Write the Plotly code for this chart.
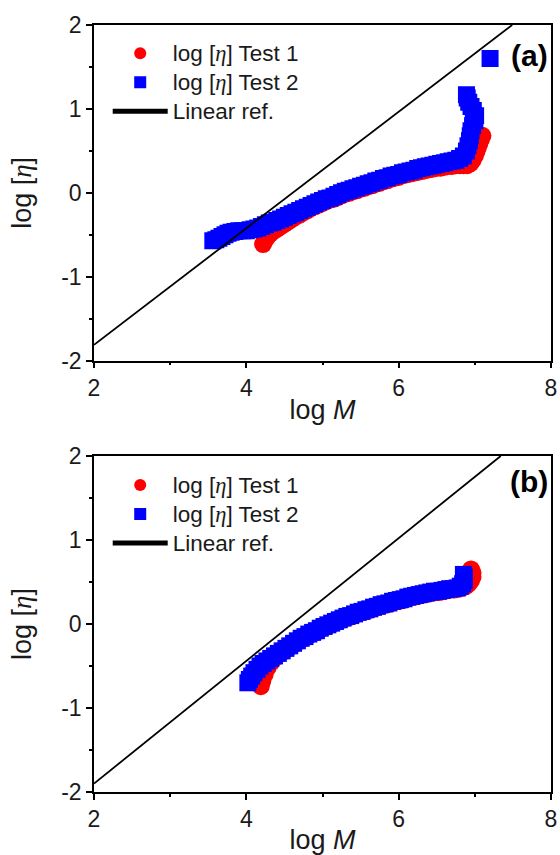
import plotly.graph_objects as go

# ---- Panel (a) ----
a_t1_x = [4.22, 4.24, 4.27, 4.31, 4.35, 4.40, 4.45, 4.50, 4.55, 4.60, 4.65, 4.70, 4.75, 4.80,
          4.85, 4.90, 4.95, 5.00, 5.05, 5.10, 5.15, 5.20, 5.25, 5.30, 5.35, 5.40, 5.45, 5.50,
          5.55, 5.60, 5.65, 5.70, 5.75, 5.80, 5.85, 5.90, 5.95, 6.00, 6.05, 6.10, 6.15, 6.20,
          6.25, 6.30, 6.35, 6.40, 6.45, 6.50, 6.55, 6.60, 6.65, 6.70, 6.75, 6.80, 6.85, 6.90,
          6.94, 6.97, 7.00, 7.02, 7.04, 7.06, 7.08, 7.10]
a_t1_y = [-0.61, -0.57, -0.53, -0.49, -0.46, -0.43, -0.40, -0.37, -0.34, -0.31, -0.28, -0.26, -0.23, -0.21,
          -0.18, -0.16, -0.14, -0.12, -0.10, -0.08, -0.07, -0.05, -0.03, -0.01, 0.00, 0.02, 0.03, 0.05,
          0.06, 0.08, 0.09, 0.11, 0.12, 0.14, 0.15, 0.17, 0.18, 0.19, 0.21, 0.22, 0.23, 0.24,
          0.25, 0.26, 0.27, 0.28, 0.29, 0.30, 0.30, 0.31, 0.32, 0.32, 0.33, 0.33, 0.33, 0.33,
          0.35, 0.39, 0.44, 0.49, 0.54, 0.59, 0.64, 0.68]

a_t2_x = [3.56, 3.60, 3.64, 3.68, 3.72, 3.76, 3.80, 3.85, 3.90, 3.95, 4.00, 4.05, 4.10, 4.15,
          4.20, 4.25, 4.30, 4.35, 4.40, 4.45, 4.50, 4.55, 4.60, 4.65, 4.70, 4.75, 4.80, 4.85,
          4.90, 4.95, 5.00, 5.05, 5.10, 5.15, 5.20, 5.25, 5.30, 5.35, 5.40, 5.45, 5.50, 5.55,
          5.60, 5.65, 5.70, 5.75, 5.80, 5.85, 5.90, 5.95, 6.00, 6.05, 6.10, 6.15, 6.20, 6.25,
          6.30, 6.35, 6.40, 6.45, 6.50, 6.55, 6.60, 6.65, 6.70, 6.75, 6.80, 6.85, 6.89, 6.91,
          6.93, 6.94, 6.95, 6.97, 7.00, 7.01, 6.98, 6.95, 6.92, 6.90, 6.89, 7.20]
a_t2_y = [-0.57, -0.56, -0.54, -0.52, -0.50, -0.48, -0.47, -0.46, -0.45, -0.45, -0.45, -0.44, -0.43, -0.42,
          -0.40, -0.38, -0.36, -0.35, -0.33, -0.31, -0.29, -0.27, -0.25, -0.23, -0.21, -0.19, -0.17, -0.15,
          -0.13, -0.11, -0.09, -0.07, -0.06, -0.04, -0.02, 0.00, 0.02, 0.03, 0.05, 0.06, 0.08, 0.09,
          0.11, 0.12, 0.14, 0.15, 0.17, 0.18, 0.20, 0.21, 0.22, 0.24, 0.25, 0.26, 0.27, 0.29,
          0.30, 0.31, 0.32, 0.33, 0.34, 0.35, 0.36, 0.37, 0.38, 0.39, 0.41, 0.44, 0.50, 0.56,
          0.62, 0.68, 0.74, 0.80, 0.86, 0.92, 0.98, 1.03, 1.08, 1.13, 1.17, 1.60]

a_ref_x = [2.0, 7.49]
a_ref_y = [-1.81, 2.0]

# ---- Panel (b) ----
b_t1_x = [4.19, 4.21, 4.24, 4.28, 4.33, 4.38, 4.43, 4.48, 4.53, 4.58, 4.63, 4.68, 4.73,
          4.78, 4.83, 4.88, 4.93, 4.98, 5.03, 5.08, 5.13, 5.18, 5.23, 5.28, 5.33, 5.38, 5.43,
          5.48, 5.53, 5.58, 5.63, 5.68, 5.73, 5.78, 5.83, 5.88, 5.93, 5.98, 6.03, 6.08, 6.13,
          6.18, 6.23, 6.28, 6.33, 6.38, 6.43, 6.48, 6.53, 6.58, 6.63, 6.68, 6.73, 6.78, 6.83,
          6.88, 6.92, 6.95, 6.97, 6.97, 6.95]
b_t1_y = [-0.74, -0.68, -0.60, -0.52, -0.45, -0.40, -0.36, -0.33, -0.30, -0.27, -0.24, -0.21, -0.18,
          -0.16, -0.13, -0.11, -0.09, -0.06, -0.04, -0.02, 0.00, 0.02, 0.04, 0.06, 0.08, 0.09, 0.11,
          0.13, 0.14, 0.16, 0.17, 0.19, 0.20, 0.22, 0.23, 0.24, 0.26, 0.27, 0.28, 0.29, 0.31,
          0.32, 0.33, 0.34, 0.35, 0.36, 0.37, 0.38, 0.38, 0.39, 0.40, 0.41, 0.41, 0.42, 0.43,
          0.45, 0.48, 0.52, 0.56, 0.61, 0.65]

b_t2_x = [4.02, 4.04, 4.07, 4.10, 4.14, 4.18, 4.22, 4.27, 4.32, 4.37, 4.42, 4.47, 4.52, 4.57,
          4.62, 4.67, 4.72, 4.77, 4.82, 4.87, 4.92, 4.97, 5.02, 5.07, 5.12, 5.17, 5.22, 5.27,
          5.32, 5.37, 5.42, 5.47, 5.52, 5.57, 5.62, 5.67, 5.72, 5.77, 5.82, 5.87, 5.92, 5.97,
          6.02, 6.07, 6.12, 6.17, 6.22, 6.27, 6.32, 6.37, 6.42, 6.47, 6.52, 6.57, 6.62, 6.67,
          6.72, 6.77, 6.81, 6.84, 6.86, 6.86, 6.85]
b_t2_y = [-0.70, -0.66, -0.62, -0.58, -0.54, -0.50, -0.47, -0.44, -0.41, -0.38, -0.35, -0.32, -0.29, -0.26,
          -0.23, -0.20, -0.17, -0.15, -0.12, -0.10, -0.08, -0.05, -0.03, -0.01, 0.01, 0.03, 0.05, 0.07,
          0.09, 0.10, 0.12, 0.14, 0.15, 0.17, 0.18, 0.20, 0.21, 0.23, 0.24, 0.25, 0.27, 0.28,
          0.29, 0.30, 0.32, 0.33, 0.34, 0.35, 0.36, 0.37, 0.38, 0.39, 0.39, 0.40, 0.41, 0.42,
          0.42, 0.43, 0.45, 0.48, 0.52, 0.56, 0.59]

b_ref_x = [2.0, 7.34]
b_ref_y = [-1.90, 2.0]

panel_tags = ["(a)", "(b)"]
eta = "<span style='font-family:Liberation Serif'><i>η</i></span>"
series_names = ["log [" + eta + "] Test 1", "log [" + eta + "] Test 2", "Linear ref."]

x_tickvals = [2, 4, 6, 8]
x_ticktext = ["2", "4", "6", "8"]
y_tickvals = [-2, -1, 0, 1, 2]
y_ticktext = ["-2", "-1", "0", "1", "2"]

RED = "#ff0000"
BLUE = "#0000ff"
FONT = "Liberation Sans, Arial, sans-serif"
TXT = "#1a1a1a"
MSIZE = 18

fig = go.Figure()

panels = [
    (a_t1_x, a_t1_y, a_t2_x, a_t2_y, a_ref_x, a_ref_y, "x", "y", "legend"),
    (b_t1_x, b_t1_y, b_t2_x, b_t2_y, b_ref_x, b_ref_y, "x2", "y2", "legend2"),
]


def legend_label(s):
    # larger glyphs than the legend's base font, which keeps rows compact
    return "<span style='font-size:22.5px'>" + s + "</span>"


for t1x, t1y, t2x, t2y, rx, ry, xa, ya, lg in panels:
    fig.add_trace(go.Scatter(x=t1x, y=t1y, mode="markers", name=legend_label(series_names[0]),
                             marker=dict(symbol="circle", size=MSIZE, color=RED),
                             xaxis=xa, yaxis=ya, legend=lg))
    fig.add_trace(go.Scatter(x=t2x, y=t2y, mode="markers", name=legend_label(series_names[1]),
                             marker=dict(symbol="square", size=MSIZE - 1, color=BLUE),
                             xaxis=xa, yaxis=ya, legend=lg))
    fig.add_trace(go.Scatter(x=rx, y=ry, mode="lines", name=legend_label(series_names[2]),
                             line=dict(color="black", width=1.8),
                             xaxis=xa, yaxis=ya, legend=lg))

axis_common = dict(
    showline=True, linecolor="black", linewidth=1.5, mirror=True,
    ticks="outside", ticklen=6, tickwidth=1.5, tickcolor="black",
    showgrid=False, zeroline=False, automargin=False,
    tickfont=dict(family=FONT, size=23, color=TXT),
)
x_minor = dict(dtick=1, ticks="outside", ticklen=3, tickwidth=1.5, tickcolor="black")
y_minor = dict(dtick=0.5, ticks="outside", ticklen=3, tickwidth=1.5, tickcolor="black")


def x_title(standoff):
    return dict(text="log <i>M</i>", font=dict(family=FONT, size=27, color=TXT), standoff=standoff)


y_title = dict(text="log [" + eta + "]", font=dict(family=FONT, size=27, color=TXT), standoff=22)

top_dom = [0.5623, 1.0]
bot_dom = [0.0, 0.4381]

legend_style = dict(xanchor="left", yanchor="top", bgcolor="rgba(0,0,0,0)",
                    font=dict(family=FONT, size=20, color=TXT), itemsizing="constant",
                    tracegroupgap=0, itemwidth=55)

fig.update_layout(
    width=560, height=855,
    margin=dict(l=94, r=9, t=25, b=63),
    plot_bgcolor="white", paper_bgcolor="white",
    xaxis=dict(range=[2, 8], tickvals=x_tickvals, ticktext=x_ticktext, anchor="y", domain=[0, 1],
               title=x_title(0), minor=x_minor, **axis_common),
    yaxis=dict(range=[-2, 2], tickvals=y_tickvals, ticktext=y_ticktext, anchor="x", domain=top_dom,
               title=y_title, minor=y_minor, **axis_common),
    xaxis2=dict(range=[2, 8], tickvals=x_tickvals, ticktext=x_ticktext, anchor="y2", domain=[0, 1],
                title=x_title(7), minor=x_minor, **axis_common),
    yaxis2=dict(range=[-2, 2], tickvals=y_tickvals, ticktext=y_ticktext, anchor="x2", domain=bot_dom,
                title=y_title, minor=y_minor, **axis_common),
    legend=dict(x=0.03, y=0.9886, **legend_style),
    legend2=dict(x=0.03, y=0.4256, **legend_style),
    showlegend=True,
)

fig.add_annotation(text="<b>" + panel_tags[0] + "</b>", xref="x domain", yref="y domain",
                   x=0.997, y=0.908, xanchor="right", yanchor="middle", showarrow=False,
                   font=dict(family=FONT, size=30, color="black"))
fig.add_annotation(text="<b>" + panel_tags[1] + "</b>", xref="x2 domain", yref="y2 domain",
                   x=0.997, y=0.925, xanchor="right", yanchor="middle", showarrow=False,
                   font=dict(family=FONT, size=30, color="black"))

fig.write_html("out.html")
